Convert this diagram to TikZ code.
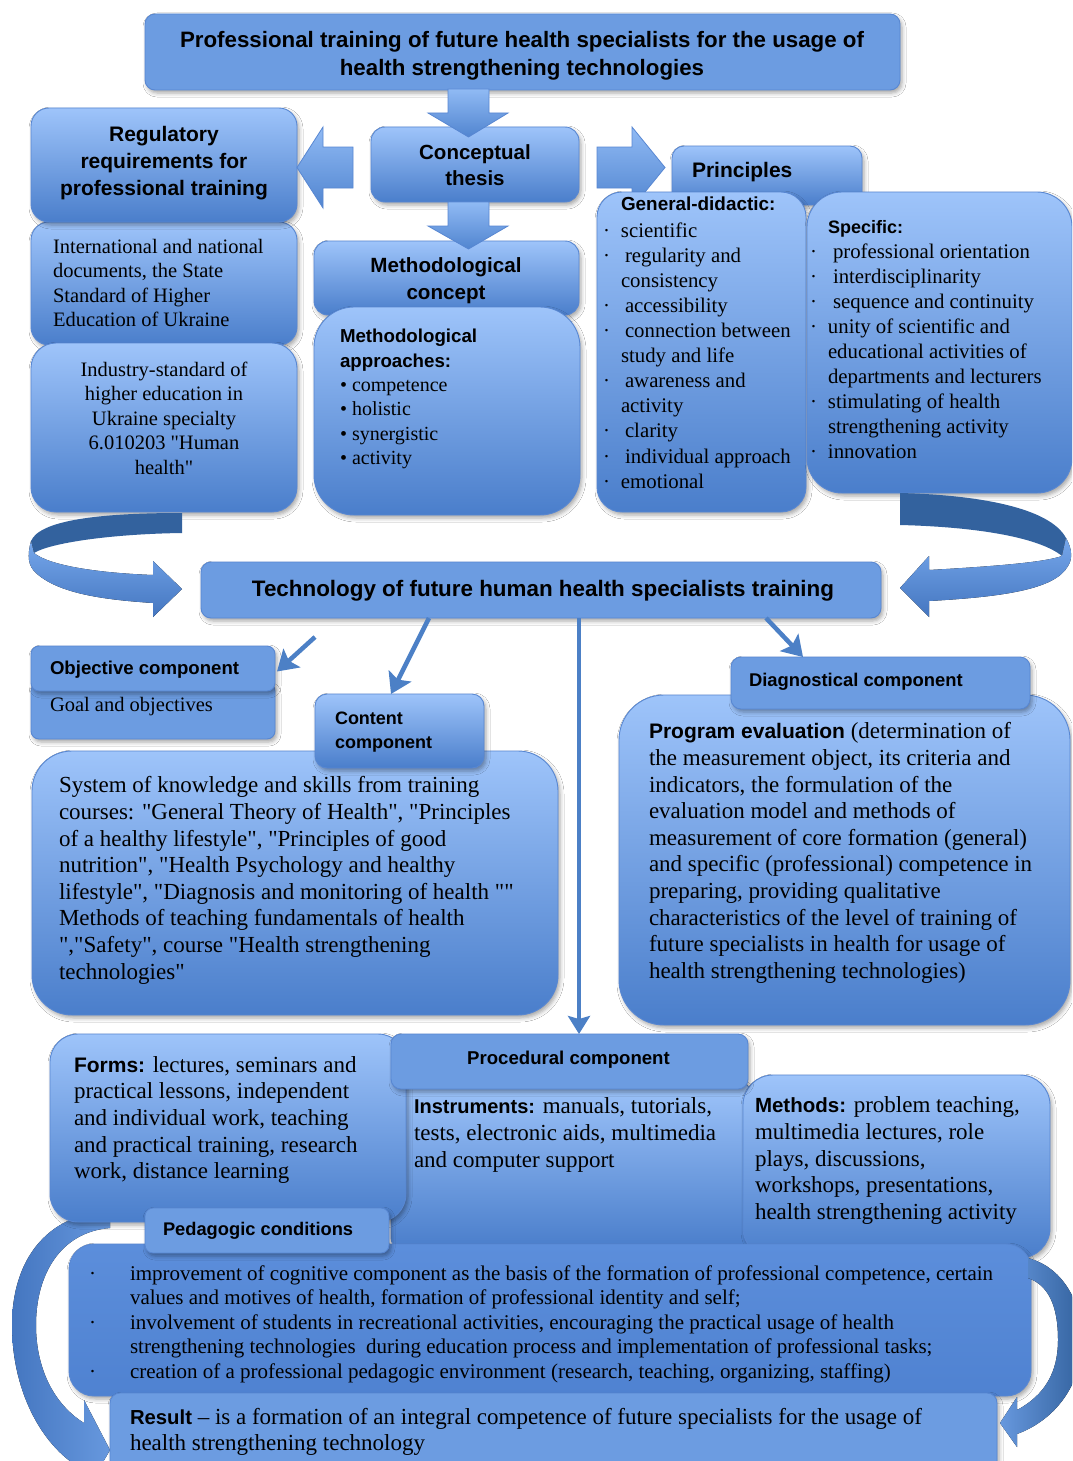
\documentclass[tikz,border=0pt]{standalone}
\usepackage{fontspec}
\setmainfont{Liberation Serif}[Ligatures=TeXOff]
\newfontfamily\hb{Liberation Sans}[Ligatures=TeXOff]
\usetikzlibrary{arrows.meta,shadows.blur,calc}

\definecolor{gTop}{HTML}{9EC4FA}
\definecolor{gBot}{HTML}{4A7ECB}
\definecolor{hFill}{HTML}{6C9CE1}
\definecolor{bdr}{HTML}{5887D2}
\definecolor{arr}{HTML}{4C80C6}
\definecolor{pTop}{HTML}{5C8EDB}
\definecolor{pBot}{HTML}{4F82D1}
\definecolor{bandDk}{HTML}{33629E}
\definecolor{bandLt}{HTML}{76A7EB}
\definecolor{bandMd}{HTML}{4476C0}
\definecolor{aTop}{HTML}{90BAF4}
\definecolor{aBot}{HTML}{5185D0}

\newcommand\fsz[2]{\fontsize{#1}{#2}\selectfont}
\newcommand\dotb{\llap{·\hspace{11pt}}}
\newcommand\dotp{\llap{·\hspace{34pt}}}
\newcommand\boxat[6]{\node[boxnode,#1,minimum width={(#5)-(#3)},minimum height={(#6)-(#4)}] (#2) at (#3,#4) {};}

\begin{document}
\begin{tikzpicture}[x=1pt,y=-1pt,
  boxnode/.style={anchor=north west, inner sep=0pt, outer sep=0pt, draw=bdr, line width=0.9pt,
     blur shadow={shadow xshift=2pt,shadow yshift=-3pt,shadow blur radius=4pt,shadow opacity=35}},
  grad/.style={top color=gTop, bottom color=gBot},
  flat/.style={fill=hFill},
  peda/.style={top color=pTop, bottom color=pBot},
  tx/.style={inner sep=0pt, outer sep=0pt, anchor=north west, align=left, text=black},
  blk/.style={draw=bdr, line width=0.8pt, top color=aTop, bottom color=aBot},
  conn/.style={draw=arr, line width=4.5pt, -{Stealth[length=20pt,width=25pt,inset=4pt]}},
  vconn/.style={draw=arr, line width=4pt, -{Stealth[length=18pt,width=22pt,inset=3pt]}}
]
\useasboundingbox (0,0) rectangle (1072,1461);
\fill[white] (0,0) rectangle (1072,1461);
\begin{scope}
\clip (0,0) rectangle (1072,1461);

% ---------- top row ----------
\boxat{flat,rounded corners=10pt}{title}{145}{14}{900}{90}
\node[tx,anchor=north,align=center,font=\hb\bfseries\fsz{22.3}{28}] (tTitle) at (522,28.4)
  {\strut Professional training of future health specialists for the usage of\\health strengthening technologies};

\boxat{grad,rounded corners=18pt}{intl}{31}{222}{297}{345}
\boxat{grad,rounded corners=18pt}{reg}{31}{108}{297}{222}
\boxat{grad,rounded corners=25pt}{ind}{31}{343}{297}{512}
\node[tx,anchor=north,align=center,font=\hb\bfseries\fsz{21}{27}] (tReg) at (164,122.7)
  {\strut Regulatory\\requirements for\\professional training};
\node[tx,font=\fsz{20.5}{24.5}] (tIntl) at (53,236)
  {\strut International and national\\documents, the State\\Standard of Higher\\Education of Ukraine};
\node[tx,anchor=north,align=center,font=\fsz{20.5}{24.5}] (tInd) at (164,359)
  {\strut Industry-standard of\\higher education in\\Ukraine specialty\\6.010203 "Human\\health"};

\boxat{grad,rounded corners=14pt}{conc}{371}{127}{579}{202}
\node[tx,anchor=north,align=center,font=\hb\bfseries\fsz{20.5}{26}] (tConc) at (475,141)
  {\strut Conceptual\\thesis};
\boxat{grad,rounded corners=14pt}{mconc}{314}{241}{579}{315}
\node[tx,anchor=north,align=center,font=\hb\bfseries\fsz{20.6}{27}] (tMconc) at (446,253.5)
  {\strut Methodological\\concept};
\boxat{grad,rounded corners=40pt}{mapp}{314}{307}{580}{515}
\node[tx,font=\fsz{20}{24.4}] (tMapp) at (340,325.6)
  {{\hb\bfseries\fsz{18.7}{24.4}\strut Methodological}\\{\hb\bfseries\fsz{18.7}{24.4}approaches:}\\• competence\\• holistic\\• synergistic\\• activity};

% block arrows
\path[blk] (448,89) -- (489,89) -- (489,113) -- (508,113) -- (468.5,137) -- (428,113) -- (448,113) -- cycle;
\path[blk] (448,202) -- (489,202) -- (489,226) -- (508,226) -- (468.5,249) -- (428,226) -- (448,226) -- cycle;
\path[blk] (353,147) -- (323,147) -- (323,127) -- (297,167.5) -- (323,208) -- (323,188) -- (353,188) -- cycle;

\boxat{grad,rounded corners=12pt}{princ}{672}{146}{862}{205}
\node[tx,anchor=base west,font=\hb\bfseries\fsz{21}{26}] (tPrinc) at (692,177.5) {Principles};
\path[blk] (597,147) -- (632,147) -- (632,127) -- (665,167.5) -- (632,208) -- (632,188) -- (597,188) -- cycle;

\boxat{grad,rounded corners=25pt}{gen}{597}{192}{806}{512}
\boxat{grad,rounded corners=35pt}{spec}{807}{192}{1072}{493}
\node[tx,anchor=base west,font=\hb\bfseries\fsz{18.9}{24}] (tGenH) at (621,210.8) {General-didactic:};
\node[tx,font=\fsz{20.8}{25.1}] (tGen) at (621,219.6)
  {\strut\dotb scientific\\
   \dotb\hspace{4pt}regularity and\\
   consistency\\
   \dotb\hspace{4pt}accessibility\\
   \dotb\hspace{4pt}connection between\\
   study and life\\
   \dotb\hspace{4pt}awareness and\\
   activity\\
   \dotb\hspace{4pt}clarity\\
   \dotb\hspace{4pt}individual approach\\
   \dotb emotional};
\node[tx,anchor=base west,font=\hb\bfseries\fsz{18}{24}] (tSpecH) at (828,233.5) {Specific:};
\node[tx,font=\fsz{20.8}{25.1}] (tSpec) at (828,240.6)
  {\strut\dotb\hspace{5pt}professional orientation\\
   \dotb\hspace{5pt}interdisciplinarity\\
   \dotb\hspace{5pt}sequence and continuity\\
   \dotb unity of scientific and\\
   educational activities of\\
   departments and lecturers\\
   \dotb stimulating of health\\
   strengthening activity\\
   \dotb innovation};

% ---------- ribbons around technology ----------
\fill[bandDk] (182,513) .. controls (100,513) and (40,520) .. (31,541) -- (34,553) .. controls (50,543) and (110,534) .. (182,533) -- cycle;
\fill[top color=bandLt,bottom color=bandMd] (31,541) .. controls (27,556) and (28,566) .. (36,573) .. controls (60,595) and (110,600) .. (153,603) -- (153,617) -- (182,589) -- (153,561) -- (153,575) .. controls (100,573) and (50,566) .. (34,553) -- cycle;
\fill[bandDk] (900,493) .. controls (980,495) and (1050,508) .. (1066,538) -- (1062,556) .. controls (1040,538) and (980,527) .. (900,525) -- cycle;
\fill[top color=bandLt,bottom color=bandMd] (1066,538) .. controls (1073,550) and (1072,560) .. (1068,566) .. controls (1055,590) and (1000,597) .. (929,601) -- (929,617) -- (900,588) -- (929,556) -- (929,570) .. controls (1000,566) and (1045,562) .. (1062,556) -- cycle;

\boxat{flat,rounded corners=10pt}{tech}{201}{562}{881}{618}
\node[tx,anchor=base,font=\hb\bfseries\fsz{22.4}{28}] (tTech) at (543,596) {Technology of future human health specialists training};

% ---------- components ----------
\boxat{flat,rounded corners=8pt}{goal}{31}{683}{275}{739}
\boxat{flat,rounded corners=8pt}{obj}{31}{646}{275}{691}
\node[tx,anchor=base west,font=\hb\bfseries\fsz{18.6}{24}] (tObj) at (50,674.7) {Objective component};
\node[tx,anchor=base west,font=\fsz{20.5}{24}] (tGoal) at (50,711) {Goal and objectives};

\boxat{grad,rounded corners=40pt}{contb}{32}{751}{558}{1015}
\boxat{grad,rounded corners=12pt}{conth}{315}{694}{484}{768}
\node[tx,font=\hb\bfseries\fsz{18}{24}] (tConth) at (335,707.7) {\strut Content\\component};
\node[tx,font=\fsz{23}{26.6}] (tContb) at (59,774.3)
  {\strut System of knowledge and skills from training\\
   courses: "General Theory of Health", "Principles\\
   of a healthy lifestyle", "Principles of good\\
   nutrition", "Health Psychology and healthy\\
   lifestyle", "Diagnosis and monitoring of health ""\\
   Methods of teaching fundamentals of health\\
   ","Safety", course "Health strengthening\\
   technologies"};

\boxat{grad,rounded corners=45pt}{progb}{619}{695}{1070}{1025}
\boxat{flat,rounded corners=10pt}{diagh}{731}{657}{1030}{709}
\node[tx,anchor=base west,font=\hb\bfseries\fsz{18.4}{24}] (tDiag) at (749,686.6) {Diagnostical component};
\node[tx,font=\fsz{23}{26.6}] (tProg) at (649,720.3)
  {\strut{\hb\bfseries\fsz{21}{26.6}Program evaluation} (determination of\\
   the measurement object, its criteria and\\
   indicators, the formulation of the\\
   evaluation model and methods of\\
   measurement of core formation (general)\\
   and specific (professional) competence in\\
   preparing, providing qualitative\\
   characteristics of the level of training of\\
   future specialists in health for usage of\\
   health strengthening technologies)};

% connectors from technology
\coordinate (vx) at (579,0);
\coordinate (oa) at (315,637);
\draw[conn] (oa) -- ([xshift=2pt,yshift=-3pt]obj.east);
\draw[conn] ([xshift=-112pt]tech.south) -- ([xshift=-8.5pt]conth.north);
\draw[conn] ([xshift=225pt]tech.south) -- ([xshift=-77.5pt]diagh.north);

% ---------- bottom part ----------
\fill[left color=bandMd, right color=bandLt!70!bandMd] (110,1211) .. controls (45,1214) and (12,1262) .. (12,1325) .. controls (12,1395) and (45,1450) .. (84,1470) -- (84,1495) -- (110,1450) -- (84,1400) -- (84,1423) .. controls (55,1405) and (36,1370) .. (36,1325) .. controls (36,1275) and (60,1232) .. (110,1228) -- cycle;

\boxat{grad,rounded corners=10pt}{instr}{391}{1082}{750}{1248}
\boxat{grad,rounded corners=30pt}{meth}{743}{1075}{1050}{1258}
\boxat{grad,rounded corners=28pt}{forms}{50}{1034}{406}{1222}
\boxat{flat,rounded corners=10pt}{proch}{391}{1034}{748}{1089}
\draw[vconn] (tech.south -| vx) -- (proch.north -| vx);
\node[tx,anchor=base,font=\hb\bfseries\fsz{18.6}{24}] (tProc) at (568.5,1064) {Procedural component};
\node[tx,font=\fsz{23}{26.7}] (tForms) at (74,1053.3)
  {\strut{\hb\bfseries\fsz{21}{26.7}Forms:} lectures, seminars and\\
   practical lessons, independent\\
   and individual work, teaching\\
   and practical training, research\\
   work, distance learning};
\node[tx,font=\fsz{23}{27}] (tInstr) at (414,1094.3)
  {\strut{\hb\bfseries\fsz{20}{27}Instruments:} manuals, tutorials,\\
   tests, electronic aids, multimedia\\
   and computer support};
\node[tx,font=\fsz{23}{26.6}] (tMeth) at (755,1094.3)
  {\strut{\hb\bfseries\fsz{20.5}{26.6}Methods:} problem teaching,\\
   multimedia lectures, role\\
   plays, discussions,\\
   workshops, presentations,\\
   health strengthening activity};

\boxat{peda,rounded corners=25pt}{pedb}{69}{1244}{1031}{1396}
\boxat{flat,rounded corners=8pt}{pedh}{145}{1208}{389}{1253}
\node[tx,anchor=base west,font=\hb\bfseries\fsz{18.3}{24}] (tPedh) at (163,1235.6) {Pedagogic conditions};
\node[tx,font=\fsz{21}{24.5}] (tPedb) at (130,1263.2)
  {\strut\dotp improvement of cognitive component as the basis of the formation of professional competence, certain\\
   values and motives of health, formation of professional identity and self;\\
   \dotp involvement of students in recreational activities, encouraging the practical usage of health\\
   strengthening technologies \ during education process and implementation of professional tasks;\\
   \dotp creation of a professional pedagogic environment (research, teaching, organizing, staffing)};

\boxat{flat,rounded corners=10pt}{res}{110}{1393}{997}{1480}
\node[tx,font=\fsz{23}{26}] (tRes) at (130,1406.7)
  {\strut{\hb\bfseries\fsz{20.3}{26}Result} – is a formation of an integral competence of future specialists for the usage of\\
   health strengthening technology};

\fill[left color=bandLt!70!bandMd, right color=bandDk] (1028,1258) .. controls (1065,1268) and (1082,1305) .. (1082,1340) .. controls (1082,1385) and (1055,1420) .. (1017,1434) -- (1017,1447) -- (1000,1423) -- (1017,1397) -- (1017,1410) .. controls (1045,1395) and (1058,1372) .. (1058,1340) .. controls (1058,1305) and (1048,1285) .. (1028,1278) -- cycle;

\end{scope}
\end{tikzpicture}
\end{document}
